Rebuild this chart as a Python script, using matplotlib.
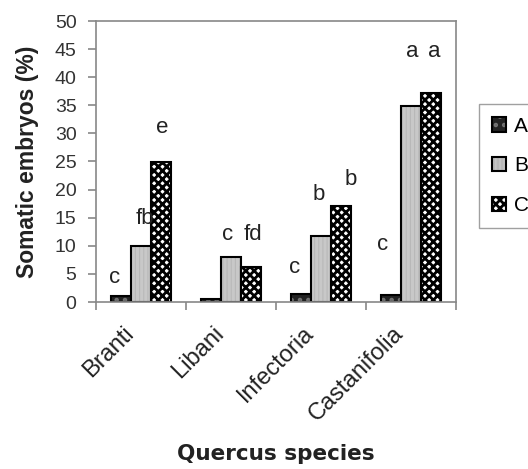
import matplotlib
matplotlib.use("Agg")
import matplotlib.pyplot as plt
import matplotlib.transforms as mtransforms
import numpy as np

species = ["Branti", "Libani", "Infectoria", "Castanifolia"]
vals_a = [1.1, 0.5, 1.5, 1.2]
vals_b = [10.0, 8.0, 11.8, 34.9]
vals_c = [24.9, 6.2, 17.0, 37.1]

# significance letters and their baselines
letters_a = ["c", "", "c", "c"]
letters_b = ["fb", "c", "b", "a"]
letters_c = ["e", "fd", "b", "a"]
base_a = [3.4, 0, 5.2, 9.3]
base_b = [13.9, 11.0, 18.1, 43.6]
base_c = [30.0, 11.0, 20.8, 43.6]
# small horizontal nudges (pixels)
dx_a = [-6, 0, -6, -8]
dx_b = [4, -3, -2, 1]
dx_c = [1, 2, 10, 3]

plt.rcParams['font.family'] = ['Liberation Sans', 'DejaVu Sans']
plt.rcParams['hatch.linewidth'] = 2.0

fig = plt.figure(figsize=(5.28, 4.69), dpi=100)
ax = fig.add_axes([96/528, 1-302/469, 360/528, 281/469])

x = np.arange(len(species))
w = 0.225
ba = ax.bar(x - w, vals_a, w, color='#222222', edgecolor='black', lw=1.5, hatch='..', label='A')
bb = ax.bar(x, vals_b, w, color='#c8c8c8', edgecolor='black', lw=1.5, hatch='||||', label='B')
bc = ax.bar(x + w, vals_c, w, color='white', edgecolor='black', lw=1.5, hatch='xxxx', label='C')
for b in ba:
    b._hatch_color = (0.45, 0.45, 0.45, 1)
for b in bb:
    b._hatch_color = (0.72, 0.72, 0.72, 1)
    try:
        b.set_hatch_linewidth(0.8)
    except AttributeError:
        pass
for b in bc:
    b._hatch_color = (0, 0, 0, 1)

for i in range(len(species)):
    for off, t, yy, d in [(-w, letters_a[i], base_a[i], dx_a[i]),
                          (0, letters_b[i], base_b[i], dx_b[i]),
                          (w, letters_c[i], base_c[i], dx_c[i])]:
        if t:
            tr = ax.transData + mtransforms.ScaledTranslation(d/100, 0, fig.dpi_scale_trans)
            ax.text(x[i] + off, yy, t, ha='center', va='baseline', fontsize=16,
                    color='#222222', transform=tr)

ax.set_xlim(-0.5, 3.5)
ax.set_ylim(0, 50)
ax.set_yticks(np.arange(0, 51, 5))
# labels sit a little left of the group centres, as in the original
ax.set_xticks(x - 0.12)
ax.set_xticklabels(species, rotation=45, ha='right', va='center', rotation_mode='anchor',
                   fontsize=17, color='#222222')
ax.set_xticks([-0.5, 0.5, 1.5, 2.5, 3.5], minor=True)
ax.tick_params(axis='x', which='major', length=0, pad=20)
ax.tick_params(axis='x', which='minor', length=6, color='#888888', width=1.2)
ax.tick_params(axis='y', length=6, width=1.2, color='#888888', pad=8,
               labelsize=14, labelcolor='#333333')
for s in ax.spines.values():
    s.set_color('#888888')
    s.set_linewidth(1.2)

ax.set_ylabel("Somatic embryos (%)", fontsize=16.5, fontweight='bold', color='#222222')
ax.yaxis.set_label_coords(-0.158, 0.5)
ax.set_xlabel("Quercus species", fontsize=15.5, fontweight='bold', color='#222222',
              family='DejaVu Sans')
ax.xaxis.set_label_coords(0.5, -0.505)

fig.legend(handles=[ba, bb, bc], loc='upper left', bbox_to_anchor=(479/528, 1-104/469),
           borderaxespad=0, fontsize=15, frameon=True, fancybox=False, edgecolor='#888888',
           handlelength=0.7, handleheight=0.7, handletextpad=0.4, labelspacing=1.0,
           borderpad=0.6)

fig.savefig("out.png", dpi=100)
